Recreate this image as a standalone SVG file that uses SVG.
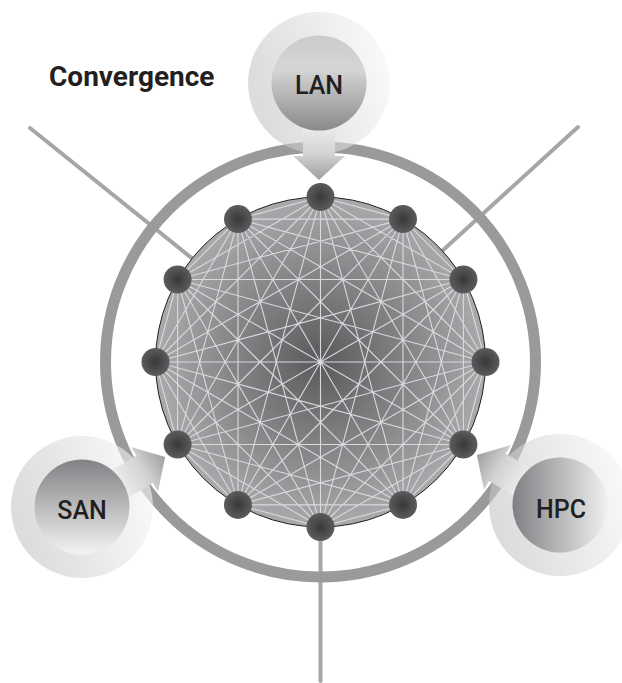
<svg xmlns="http://www.w3.org/2000/svg" width="622" height="683" viewBox="0 0 622 683">
<defs>
<radialGradient id="gDisc" cx="320.5" cy="362" r="165" gradientUnits="userSpaceOnUse">
<stop offset="0" stop-color="#5a5a5d"/><stop offset="1" stop-color="#aaaaad"/>
</radialGradient>
<radialGradient id="gDot" cx="0.5" cy="0.5" r="0.5">
<stop offset="0" stop-color="#38383a"/><stop offset="1" stop-color="#5c5c5e"/>
</radialGradient>
<linearGradient id="gHalo" x1="0" y1="0.3" x2="1" y2="0">
<stop offset="0" stop-color="#c6c6c6"/><stop offset="1" stop-color="#fbfbfb"/>
</linearGradient>
<linearGradient id="gArrow" x1="40" y1="0" x2="97" y2="0" gradientUnits="userSpaceOnUse">
<stop offset="0" stop-color="#f0f0f0"/><stop offset="0.55" stop-color="#d2d2d2"/><stop offset="1" stop-color="#9e9ea0"/>
</linearGradient>
<linearGradient id="gLan" x1="0" y1="0" x2="0" y2="1">
<stop offset="0" stop-color="#cbcbcb"/><stop offset="0.35" stop-color="#d6d6d6"/><stop offset="1" stop-color="#89898b"/>
</linearGradient>
<linearGradient id="gSan" x1="0" y1="0" x2="0" y2="1">
<stop offset="0" stop-color="#828286"/><stop offset="1" stop-color="#f3f3f3"/>
</linearGradient>
<linearGradient id="gHpc" x1="0" y1="0" x2="1" y2="0">
<stop offset="0" stop-color="#808084"/><stop offset="1" stop-color="#f0f0f0"/>
</linearGradient>
<polygon id="arrow" points="40,-16 73,-16 73,-26 97,0 73,26 73,16 40,16"/>
<circle id="dot" r="14"/>
</defs>
<style>
.ray{stroke:#a6a6a9;stroke-width:4;stroke-linecap:round;fill:none}
.ring{fill:none;stroke:#9a9a9d;stroke-width:11}
.mesh{fill:none;stroke:#dadadd;stroke-width:1.1}
.dot{fill:url(#gDot)}
.halo{fill:url(#gHalo);opacity:0.6}
.arr{fill:url(#gArrow)}
.lbl{font-family:Roboto,"Liberation Sans",Arial,sans-serif;font-size:25px;font-weight:500;fill:#231f20;text-anchor:middle}
.title{font-family:Roboto,"Liberation Sans",Arial,sans-serif;font-size:28px;font-weight:bold;fill:#231f20}
</style>
<rect width="622" height="683" fill="#ffffff"/>
<g id="connectors">
<line class="ray" x1="30" y1="128" x2="192.1" y2="258.4"/>
<line class="ray" x1="578" y1="127" x2="442.4" y2="250.8"/>
<line class="ray" x1="320.5" y1="527" x2="320.5" y2="681"/>
</g>
<g id="ring"><circle class="ring" cx="320.5" cy="362" r="215"/></g>
<g id="core">
<circle cx="320.5" cy="362" r="165" fill="url(#gDisc)" stroke="#1e1e1e" stroke-width="1"/>
<path class="mesh" d="M320.5 197L403 219.1M320.5 197L463.4 279.5M320.5 197L485.5 362M320.5 197L463.4 444.5M320.5 197L403 504.9M320.5 197L320.5 527M320.5 197L238 504.9M320.5 197L177.6 444.5M320.5 197L155.5 362M320.5 197L177.6 279.5M320.5 197L238 219.1M403 219.1L463.4 279.5M403 219.1L485.5 362M403 219.1L463.4 444.5M403 219.1L403 504.9M403 219.1L320.5 527M403 219.1L238 504.9M403 219.1L177.6 444.5M403 219.1L155.5 362M403 219.1L177.6 279.5M403 219.1L238 219.1M463.4 279.5L485.5 362M463.4 279.5L463.4 444.5M463.4 279.5L403 504.9M463.4 279.5L320.5 527M463.4 279.5L238 504.9M463.4 279.5L177.6 444.5M463.4 279.5L155.5 362M463.4 279.5L177.6 279.5M463.4 279.5L238 219.1M485.5 362L463.4 444.5M485.5 362L403 504.9M485.5 362L320.5 527M485.5 362L238 504.9M485.5 362L177.6 444.5M485.5 362L155.5 362M485.5 362L177.6 279.5M485.5 362L238 219.1M463.4 444.5L403 504.9M463.4 444.5L320.5 527M463.4 444.5L238 504.9M463.4 444.5L177.6 444.5M463.4 444.5L155.5 362M463.4 444.5L177.6 279.5M463.4 444.5L238 219.1M403 504.9L320.5 527M403 504.9L238 504.9M403 504.9L177.6 444.5M403 504.9L155.5 362M403 504.9L177.6 279.5M403 504.9L238 219.1M320.5 527L238 504.9M320.5 527L177.6 444.5M320.5 527L155.5 362M320.5 527L177.6 279.5M320.5 527L238 219.1M238 504.9L177.6 444.5M238 504.9L155.5 362M238 504.9L177.6 279.5M238 504.9L238 219.1M177.6 444.5L155.5 362M177.6 444.5L177.6 279.5M177.6 444.5L238 219.1M155.5 362L177.6 279.5M155.5 362L238 219.1M177.6 279.5L238 219.1"/>
</g>
<g id="n0"><use href="#dot" class="dot" x="320.5" y="197"/></g>
<g id="n1"><use href="#dot" class="dot" x="403" y="219.1"/></g>
<g id="n2"><use href="#dot" class="dot" x="463.4" y="279.5"/></g>
<g id="n3"><use href="#dot" class="dot" x="485.5" y="362"/></g>
<g id="n4"><use href="#dot" class="dot" x="463.4" y="444.5"/></g>
<g id="n5"><use href="#dot" class="dot" x="403" y="504.9"/></g>
<g id="n6"><use href="#dot" class="dot" x="320.5" y="527"/></g>
<g id="n7"><use href="#dot" class="dot" x="238" y="504.9"/></g>
<g id="n8"><use href="#dot" class="dot" x="177.6" y="444.5"/></g>
<g id="n9"><use href="#dot" class="dot" x="155.5" y="362"/></g>
<g id="n10"><use href="#dot" class="dot" x="177.6" y="279.5"/></g>
<g id="n11"><use href="#dot" class="dot" x="238" y="219.1"/></g>
<g id="lan" transform="translate(319,83)">
<circle class="halo" r="71"/>
<use href="#arrow" class="arr" transform="rotate(90)"/>
<circle r="47.5" fill="url(#gLan)"/>
<text class="lbl" x="0" y="11">LAN</text>
</g>
<g id="san" transform="translate(82,507)">
<circle class="halo" r="71"/>
<use href="#arrow" class="arr" transform="rotate(-31)"/>
<circle r="47.5" fill="url(#gSan)"/>
<text class="lbl" x="0" y="12">SAN</text>
</g>
<g id="hpc" transform="translate(560,505)">
<circle class="halo" r="71"/>
<use href="#arrow" class="arr" transform="rotate(211)"/>
<circle r="47.5" fill="url(#gHpc)"/>
<text class="lbl" x="1" y="13">HPC</text>
</g>
<g id="title"><text class="title" x="49" y="86">Convergence</text></g>
</svg>
